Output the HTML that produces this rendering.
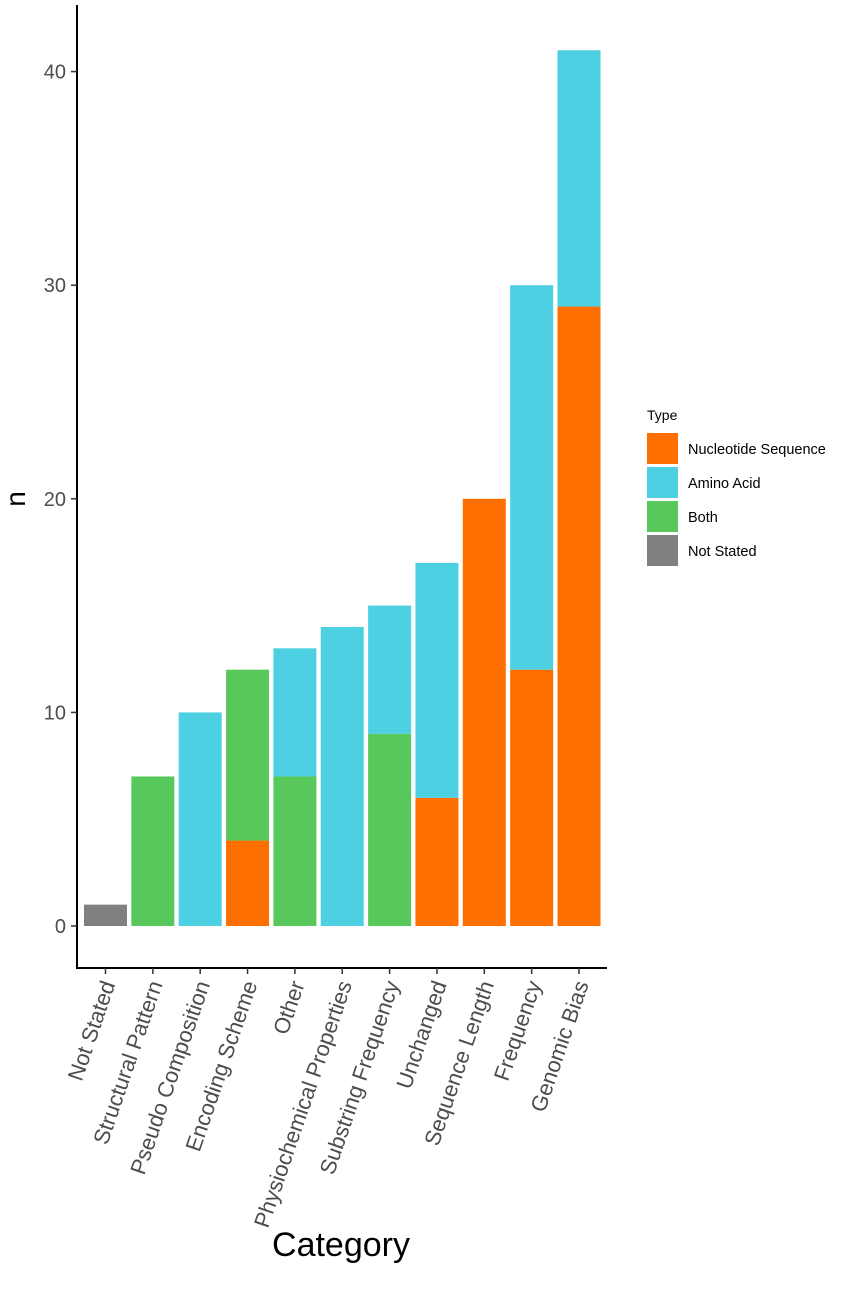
<!DOCTYPE html>
<html><head><meta charset="utf-8"><style>
body{margin:0;background:#fff;}
svg{display:block;font-family:"Liberation Sans",Arial,sans-serif;}
</style></head><body>
<svg id="chart" width="851" height="1296">
<g id="bars"></g>
<g id="axes"></g>
<g id="legend"></g>
</svg>
<script>
const categories = ["Not Stated","Structural Pattern","Pseudo Composition","Encoding Scheme","Other","Physiochemical Properties","Substring Frequency","Unchanged","Sequence Length","Frequency","Genomic Bias"];
const nucleotide = [0,0,0,4,0,0,0,6,20,12,29];
const both =       [0,7,0,8,7,0,9,0,0,0,0];
const aminoAcid =  [0,0,10,0,6,14,6,11,0,18,12];
const notStated =  [1,0,0,0,0,0,0,0,0,0,0];
const yTicks = [0,10,20,30,40];
const seriesNames = ["Nucleotide Sequence","Amino Acid","Both","Not Stated"];

const NS="http://www.w3.org/2000/svg";
const colors={"Nucleotide Sequence":"#FF6F00","Amino Acid":"#4DD0E1","Both":"#59C85C","Not Stated":"#808080"};
const y0=926, pxPer=21.36;
const y=v=>y0-v*pxPer;
const step=47.35, x0=84, bw=43;
const xc=i=>x0+i*step+bw/2;
function mk(tag,attrs,parent){const e=document.createElementNS(NS,tag);for(const k in attrs)e.setAttribute(k,attrs[k]);parent.appendChild(e);return e;}
const bars=document.getElementById('bars'), axes=document.getElementById('axes'), legend=document.getElementById('legend');
const stack=[["Nucleotide Sequence",nucleotide],["Both",both],["Amino Acid",aminoAcid],["Not Stated",notStated]];
categories.forEach((c,i)=>{
  let base=0;
  stack.forEach(([name,arr])=>{
    const v=arr[i]; if(!v) return;
    const r=mk('rect',{x:xc(i)-bw/2,y:y(base+v),width:bw,height:y(base)-y(base+v),fill:colors[name]},bars);
    
    
    base+=v;
  });
});
let l=mk('line',{x1:77,y1:5,x2:77,y2:969,stroke:'#000','stroke-width':2},axes);


l=mk('line',{x1:76,y1:968,x2:607,y2:968,stroke:'#000','stroke-width':2},axes);


yTicks.forEach(t=>{
  mk('line',{x1:71,y1:y(t),x2:77,y2:y(t),stroke:'#333','stroke-width':1.5},axes);
  const tx=mk('text',{x:66,y:y(t)+7,'text-anchor':'end','font-size':20,fill:'#4d4d4d'},axes);
  tx.textContent=t;
  
  
});
categories.forEach((c,i)=>{
  const x=xc(i);
  mk('line',{x1:x,y1:968,x2:x,y2:974,stroke:'#333','stroke-width':1.5},axes);
  const ax=x+10, ay=984;
  const tx=mk('text',{x:ax,y:ay,'text-anchor':'end','font-size':22,fill:'#4d4d4d',transform:`rotate(-71 ${ax} ${ay})`},axes);
  tx.textContent=c;
  
  
});
let t=mk('text',{x:25,y:499,'text-anchor':'middle','font-size':28,fill:'#000',transform:'rotate(-90 25 499)'},axes);
t.textContent='n';


t=mk('text',{x:341,y:1256,'text-anchor':'middle','font-size':34,fill:'#000'},axes);
t.textContent='Category';


t=mk('text',{x:647,y:420,'font-size':14,fill:'#000'},legend);
t.textContent='Type';


seriesNames.forEach((n,k)=>{
  const yy=433+k*34;
  const r=mk('rect',{x:647,y:yy,width:31,height:31,fill:colors[n]},legend);
  
  
  const tx=mk('text',{x:688,y:yy+21,'font-size':14.5,fill:'#000'},legend);
  tx.textContent=n;
  
  
});
</script>
</body></html>
